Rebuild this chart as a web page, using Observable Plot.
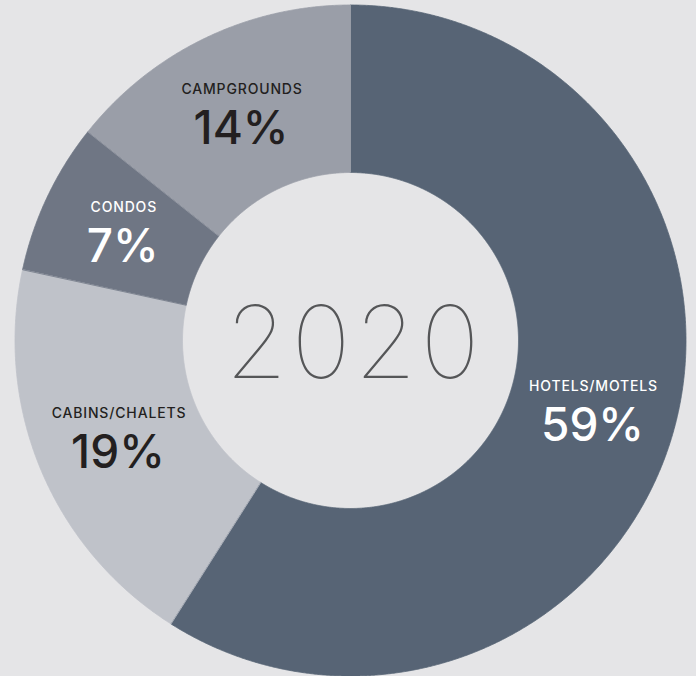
<!DOCTYPE html>
<html><head><meta charset="utf-8">
<script src="https://cdn.jsdelivr.net/npm/d3@7"></script>
<script src="https://cdn.jsdelivr.net/npm/@observablehq/plot@0.6"></script>
<style>html,body{margin:0;padding:0;background:#e5e5e7;overflow:hidden}
.cat text{letter-spacing:0.06em}
.year text{letter-spacing:0.04em}</style>
</head><body><div id="chart"></div>
<script>
// ---- data ----
const categories = ["HOTELS/MOTELS", "CABINS/CHALETS", "CONDOS", "CAMPGROUNDS"];
const shares = [59, 19.4, 7.3, 14.3];            // slice sizes
const percentLabels = ["59%", "19%", "7%", "14%"];
const centerLabel = "2020";

// ---- styles ----
const sliceColors = ["#576475", "#bfc2c9", "#6f7684", "#9a9ea8"];
const labelColors = ["#ffffff", "#231f20", "#ffffff", "#231f20"];
const FONT = "Inter";

// ---- layout ----
const W = 696, H = 676, R_OUT = 335.5, R_IN = 168, R_LABEL = 252;

const rows = categories.map((c, i) => ({category: c, share: shares[i], pct: percentLabels[i], tc: labelColors[i]}));
const arcs = d3.pie().sort(null).value(d => d.share)(rows);

const poly = [];
for (const a of arcs) {
  const n = Math.max(2, Math.ceil((a.endAngle - a.startAngle) / 0.004));
  for (let k = 0; k <= n; k++) {
    const t = a.startAngle + (a.endAngle - a.startAngle) * k / n;
    poly.push({category: a.data.category, x: R_OUT * Math.sin(t), y: R_OUT * Math.cos(t)});
  }
  for (let k = n; k >= 0; k--) {
    const t = a.startAngle + (a.endAngle - a.startAngle) * k / n;
    poly.push({category: a.data.category, x: R_IN * Math.sin(t), y: R_IN * Math.cos(t)});
  }
}
const labels = arcs.map(a => {
  const m = (a.startAngle + a.endAngle) / 2;
  return {...a.data, x: R_LABEL * Math.sin(m), y: R_LABEL * Math.cos(m)};
});
const white = labels.filter(d => d.tc === "#ffffff");
const dark = labels.filter(d => d.tc !== "#ffffff");

const textMarks = (data, color) => [
  Plot.text(data, {x: "x", y: "y", text: "category", fill: color, dy: -20, dx: 1, lineAnchor: "bottom",
    fontSize: 14, fontFamily: FONT, fontWeight: 500, textAnchor: "middle", className: "cat"}),
  Plot.text(data, {x: "x", y: "y", text: "pct", fill: color, dy: 30, lineAnchor: "bottom",
    fontSize: 46, fontFamily: FONT, fontWeight: 500, textAnchor: "middle"})
];

const chart = Plot.plot({
  width: W, height: H, margin: 0,
  style: {background: "#e5e5e7", overflow: "hidden"},
  x: {domain: [-350, 346], axis: null},
  y: {domain: [-336, 340], axis: null},
  color: {domain: categories, range: sliceColors},
  marks: [
    Plot.line(poly, {x: "x", y: "y", z: "category", fill: "category", stroke: "category",
      strokeWidth: 0.8, curve: "linear-closed"}),
    ...textMarks(white, "#ffffff"),
    ...textMarks(dark, "#231f20"),
    Plot.text([centerLabel], {x: () => 0, y: () => 0, text: d => d, fill: "#555658", dy: 5, dx: 4,
      fontSize: 100, fontFamily: FONT, fontWeight: 100, lineAnchor: "middle", textAnchor: "middle",
      className: "year"})
  ]
});
document.getElementById("chart").appendChild(chart);
</script></body></html>
